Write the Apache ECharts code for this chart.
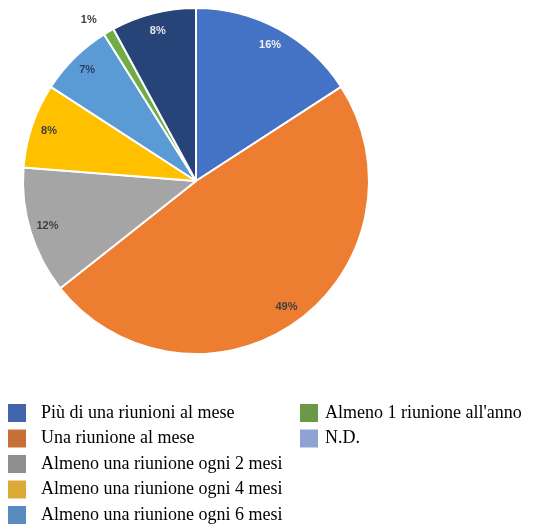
<!DOCTYPE html>
<html>
<head>
<meta charset="utf-8">
<script src="https://cdn.jsdelivr.net/npm/echarts@6/dist/echarts.min.js"></script>
<style>
  html, body { margin: 0; padding: 0; background: #ffffff; }
  #chart { width: 538px; height: 530px; }
</style>
</head>
<body>
<div id="chart"></div>
<script>
// Frequenza delle riunioni (valori percentuali)
const categories = [
  'Più di una riunioni al mese',
  'Una riunione al mese',
  'Almeno una riunione ogni 2 mesi',
  'Almeno una riunione ogni 4 mesi',
  'Almeno una riunione ogni 6 mesi',
  'Almeno 1 riunione all\'anno',
  'N.D.'
];
const values = [16, 49, 12, 8, 7, 1, 8];

// Slice colours and legend swatch colours
const sliceColors = ['#4472C4', '#ED7D31', '#A5A5A5', '#FFC000', '#5B9BD5', '#70AD47', '#264478'];
const legendColors = ['#4065AA', '#C8703A', '#8E8E8E', '#DBAA37', '#5A8BBF', '#6A9A48', '#8FA3D2'];
const labelColors = ['#F2F2F2', '#404040', '#404040', '#404040', '#2F3F5F', '#404040', '#E6E6E6'];

const center = [196, 181];
const radius = 173;

const sliceData = categories.map((name, i) => ({
  name: name,
  value: values[i],
  itemStyle: { color: sliceColors[i] }
}));

// Transparent ring used only to place the percentage labels near the rim
const labelData = categories.map((name, i) => {
  const item = {
    name: name,
    value: values[i],
    itemStyle: { color: 'rgba(0,0,0,0)', borderWidth: 0 },
    label: { color: labelColors[i] }
  };
  if (values[i] < 3) {
    item.label = { position: 'outside', color: '#404040' };
    item.labelLine = { show: false, length: 14, length2: 0 };
  }
  return item;
});

const legendItem = (i) => ({
  name: categories[i],
  icon: 'rect',
  itemStyle: { color: legendColors[i], borderWidth: 0 }
});

const legendBase = {
  orient: 'vertical',
  top: 404,
  height: 126,
  padding: 0,
  itemWidth: 18,
  itemHeight: 18,
  itemGap: 7.5,
  selectedMode: false,
  textStyle: {
    fontFamily: 'Liberation Serif, Times New Roman, serif',
    fontSize: 18,
    lineHeight: 18,
    color: '#000000'
  }
};

const chart = echarts.init(document.getElementById('chart'), null, { renderer: 'canvas' });
chart.setOption({
  backgroundColor: '#ffffff',
  animation: false,
  legend: [
    Object.assign({}, legendBase, {
      left: 8,
      data: [0, 1, 2, 3, 4].map(legendItem),
      textStyle: Object.assign({}, legendBase.textStyle, { padding: [0, 0, 0, 10] })
    }),
    Object.assign({}, legendBase, {
      left: 300,
      data: [5, 6].map(legendItem),
      textStyle: Object.assign({}, legendBase.textStyle, { padding: [0, 0, 0, 2] })
    })
  ],
  series: [
    {
      type: 'pie',
      center: center,
      radius: [0, radius],
      startAngle: 90,
      clockwise: true,
      avoidLabelOverlap: false,
      silent: true,
      label: { show: false },
      labelLine: { show: false },
      itemStyle: { borderColor: '#ffffff', borderWidth: 2 },
      data: sliceData
    },
    {
      type: 'pie',
      center: center,
      radius: [radius * 0.76, radius],
      startAngle: 90,
      clockwise: true,
      avoidLabelOverlap: false,
      silent: true,
      z: 3,
      label: {
        show: true,
        position: 'inside',
        formatter: '{c}%',
        fontFamily: 'Liberation Sans, Arial, sans-serif',
        fontWeight: 'bold',
        fontSize: 11
      },
      labelLine: { show: false },
      data: labelData
    }
  ]
});
</script>
</body>
</html>
